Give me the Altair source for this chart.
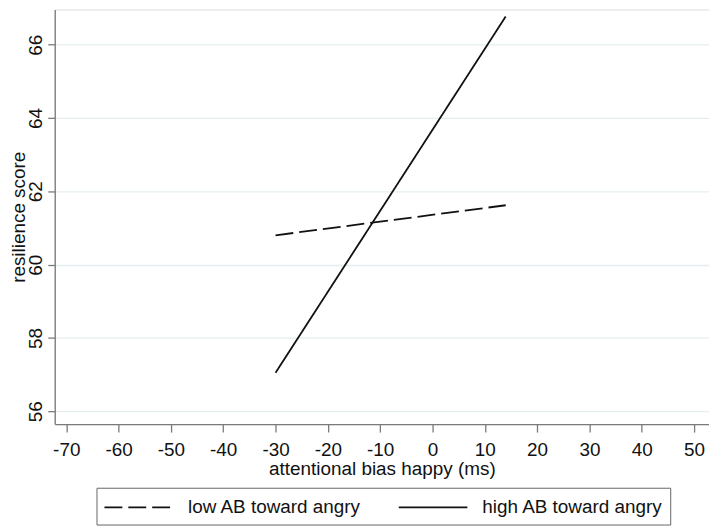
import altair as alt
import pandas as pd

# data
groups = ["low AB toward angry", "low AB toward angry", "high AB toward angry", "high AB toward angry"]
bias_x = [-30, 14, -30, 14]
resilience = [60.80, 61.62, 57.05, 66.77]

df = pd.DataFrame({"group": groups, "x": bias_x, "y": resilience})

FONT = "Liberation Sans"
x_ticks = list(range(-70, 51, 10))
y_ticks = [56, 58, 60, 62, 64, 66]

W, H = 658, 417
FS = 19

chart = alt.Chart(df).mark_line(strokeWidth=1.8).encode(
    x=alt.X("x:Q",
            scale=alt.Scale(domain=[-72.2, 52.85], nice=False, zero=False),
            axis=alt.Axis(values=x_ticks, title="attentional bias happy (ms)",
                          labelExpr="toString(datum.value)",
                          grid=False, tickSize=8, labelPadding=9, titlePadding=0,
                          domainColor="#7a7a7a", tickColor="#7a7a7a", domainWidth=1.3, tickWidth=1.3,
                          labelFontSize=FS, titleFontSize=FS, labelColor="#111", titleColor="#111",
                          titleFontWeight="normal", labelFont=FONT, titleFont=FONT)),
    y=alt.Y("y:Q",
            scale=alt.Scale(domain=[55.65, 66.96], nice=False, zero=False),
            axis=alt.Axis(values=y_ticks, title="resilience score",
                          grid=True, gridColor="#e4eeef", gridWidth=1.3,
                          tickSize=7, labelPadding=2, titlePadding=-2,
                          labelAngle=-90, labelAlign="center", labelBaseline="bottom",
                          domainColor="#7a7a7a", tickColor="#7a7a7a", domainWidth=1.3, tickWidth=1.3,
                          labelFontSize=FS, titleFontSize=FS, labelColor="#111", titleColor="#111",
                          titleFontWeight="normal", labelFont=FONT, titleFont=FONT)),
    strokeDash=alt.StrokeDash("group:N",
                              scale=alt.Scale(domain=["low AB toward angry", "high AB toward angry"],
                                              range=[[18, 6], [1, 0]]),
                              legend=alt.Legend(title=None, orient="none", direction="horizontal",
                                                legendX=42, legendY=481,
                                                symbolType="M-1,0H5", symbolSize=529,
                                                symbolStrokeWidth=1.8, symbolStrokeColor="#111",
                                                labelFontSize=FS, labelFont=FONT, labelColor="#111",
                                                labelOffset=60, columnPadding=33,
                                                strokeColor="#666", padding=7,
                                                labelLimit=400)),
    color=alt.value("#111"),
).properties(
    width=W, height=H,
    autosize=alt.AutoSizeParams(type="none"),
    padding={"left": 47, "top": 0, "right": 0, "bottom": 104},
).configure_view(stroke=None).configure(background="white")

chart.save("out.html", embed_options={"renderer": "svg", "actions": False})
